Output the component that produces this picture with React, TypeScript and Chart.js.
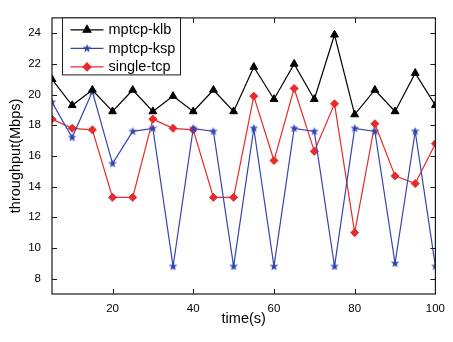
import React, { useEffect, useRef } from "react";
import { Chart, registerables } from "chart.js";
import { drawPoint } from "chart.js/helpers";

Chart.register(...registerables);

const times = [5, 10, 15, 20, 25, 30, 35, 40, 45, 50, 55, 60, 65, 70, 75, 80, 85, 90, 95, 100];
const klb = [21.0, 19.3, 20.3, 18.9, 20.3, 18.9, 19.9, 18.9, 20.3, 18.9, 21.8, 19.7, 22.0, 19.7, 23.9, 18.7, 20.3, 18.9, 21.4, 19.3];
const ksp = [19.5, 17.2, 20.2, 15.5, 17.6, 17.8, 8.8, 17.8, 17.6, 8.8, 17.8, 8.8, 17.8, 17.6, 8.8, 17.8, 17.6, 9.0, 17.6, 8.8];
const tcp = [18.4, 17.8, 17.7, 13.3, 13.3, 18.4, 17.8, 17.7, 13.3, 13.3, 19.9, 15.7, 20.4, 16.3, 19.4, 11.0, 18.1, 14.7, 14.2, 16.8];
const xTicks = [20, 40, 60, 80, 100];
const yTicks = [8, 10, 12, 14, 16, 18, 20, 22, 24];
const seriesNames = ["mptcp-klb", "mptcp-ksp", "single-tcp"];

const BLACK = "#000000";
const BLUE = "#3346b0";
const RED = "#e82a2a";
const FONT = "'Liberation Sans', Arial, sans-serif";

function makeStar(color: string, r: number) {
  const size = Math.ceil(r * 2 + 2);
  const c = document.createElement("canvas");
  c.width = size;
  c.height = size;
  const ctx = c.getContext("2d")!;
  const cx = size / 2;
  const cy = size / 2;
  ctx.beginPath();
  for (let i = 0; i < 10; i++) {
    const rad = i % 2 === 0 ? r : r * 0.42;
    const a = -Math.PI / 2 + (i * Math.PI) / 5;
    const px = cx + rad * Math.cos(a);
    const py = cy + rad * Math.sin(a);
    if (i === 0) ctx.moveTo(px, py);
    else ctx.lineTo(px, py);
  }
  ctx.closePath();
  ctx.fillStyle = color;
  ctx.fill();
  return c;
}

const frameAndLegend = {
  id: "frameAndLegend",
  afterDraw(chart: any) {
    const { ctx, chartArea, scales } = chart;
    const { left, right, top, bottom } = chartArea;
    ctx.save();
    ctx.strokeStyle = "#1a1a1a";
    ctx.lineWidth = 1.2;
    ctx.strokeRect(left, top, right - left, bottom - top);
    ctx.lineWidth = 1;
    ctx.beginPath();
    const tl = 5;
    xTicks.forEach((v) => {
      const px = Math.round(scales.x.getPixelForValue(v)) + 0.5;
      ctx.moveTo(px, bottom);
      ctx.lineTo(px, bottom - tl);
      ctx.moveTo(px, top);
      ctx.lineTo(px, top + tl);
    });
    yTicks.forEach((v) => {
      const py = Math.round(scales.y.getPixelForValue(v)) + 0.5;
      ctx.moveTo(left, py);
      ctx.lineTo(left + tl, py);
      ctx.moveTo(right, py);
      ctx.lineTo(right - tl, py);
    });
    ctx.stroke();

    // legend box
    const bx = left + 10.5;
    const bw = 118;
    const by = top;
    const bh = 57;
    ctx.fillStyle = "#ffffff";
    ctx.fillRect(bx, by, bw, bh);
    ctx.strokeStyle = "#1a1a1a";
    ctx.lineWidth = 1;
    ctx.strokeRect(bx, by, bw, bh);
    const rows = [12, 30.5, 49];
    chart.data.datasets.forEach((ds: any, i: number) => {
      const y = top + rows[i];
      const x0 = bx + 8;
      const x1 = bx + 41;
      ctx.strokeStyle = ds.borderColor;
      ctx.lineWidth = 1.2;
      ctx.beginPath();
      ctx.moveTo(x0, y);
      ctx.lineTo(x1, y);
      ctx.stroke();
      ctx.fillStyle = ds.pointBackgroundColor;
      ctx.strokeStyle = ds.pointBorderColor;
      drawPoint(ctx, { pointStyle: ds.pointStyle, radius: ds.pointRadius, rotation: 0, borderWidth: 1 }, (x0 + x1) / 2, y);
      ctx.fillStyle = "#000";
      ctx.font = `14.5px ${FONT}`;
      ctx.textAlign = "left";
      ctx.textBaseline = "middle";
      ctx.fillText(ds.label, bx + 46, y + 0.5);
    });
    ctx.restore();
  },
};

export default function App() {
  const ref = useRef<HTMLCanvasElement>(null);
  useEffect(() => {
    document.body.style.margin = "0";
    const star = makeStar(BLUE, 4.6);
    const mk = (ys: number[]) => times.map((t, i) => ({ x: t, y: ys[i] }));
    const chart = new Chart(ref.current!, {
      type: "line",
      data: {
        datasets: [
          {
            label: seriesNames[0],
            data: mk(klb),
            borderColor: BLACK,
            backgroundColor: BLACK,
            pointBackgroundColor: BLACK,
            pointBorderColor: BLACK,
            pointStyle: "triangle",
            pointRadius: 4.5,
            borderWidth: 1.2,
            pointBorderWidth: 1,
          },
          {
            label: seriesNames[1],
            data: mk(ksp),
            borderColor: BLUE,
            backgroundColor: BLUE,
            pointBackgroundColor: BLUE,
            pointBorderColor: BLUE,
            pointStyle: star as any,
            pointRadius: 4.6,
            borderWidth: 1.2,
            pointBorderWidth: 1,
          },
          {
            label: seriesNames[2],
            data: mk(tcp),
            borderColor: RED,
            backgroundColor: RED,
            pointBackgroundColor: RED,
            pointBorderColor: RED,
            pointStyle: "rectRot",
            pointRadius: 4,
            borderWidth: 1.2,
            pointBorderWidth: 1,
          },
        ] as any,
      },
      options: {
        animation: false,
        responsive: false,
        devicePixelRatio: 1,
        layout: { padding: { top: 4, right: 11, left: 0, bottom: 0 } },
        plugins: { legend: { display: false }, tooltip: { enabled: false } },
        scales: {
          x: {
            type: "linear",
            min: 5,
            max: 100,
            grid: { display: false, drawTicks: false },
            border: { display: false },
            afterBuildTicks: (s: any) => {
              s.ticks = xTicks.map((v) => ({ value: v }));
            },
            afterFit: (s: any) => {
              s.height = 48;
            },
            ticks: {
              padding: 8,
              color: "#000",
              font: { family: FONT, size: 11.5 },
              callback: (v: any) => String(v),
            },
            title: {
              display: true,
              text: "time(s)",
              color: "#000",
              font: { family: FONT, size: 14.5 },
              padding: { top: 0, bottom: 14 },
            },
          },
          y: {
            type: "linear",
            min: 7,
            max: 25,
            grid: { display: false, drawTicks: false },
            border: { display: false },
            afterBuildTicks: (s: any) => {
              s.ticks = yTicks.map((v) => ({ value: v }));
            },
            afterFit: (s: any) => {
              s.width = 52;
            },
            ticks: {
              padding: 11,
              color: "#000",
              font: { family: FONT, size: 11.5 },
              callback: (v: any) => String(v),
            },
            title: {
              display: true,
              text: "throughput(Mbps)",
              color: "#000",
              font: { family: FONT, size: 14.5 },
              padding: { top: 7, bottom: 0 },
            },
          },
        },
      },
      plugins: [frameAndLegend],
    });
    return () => chart.destroy();
  }, []);
  return <canvas ref={ref} width={453} height={342} style={{ display: "block" }} />;
}
